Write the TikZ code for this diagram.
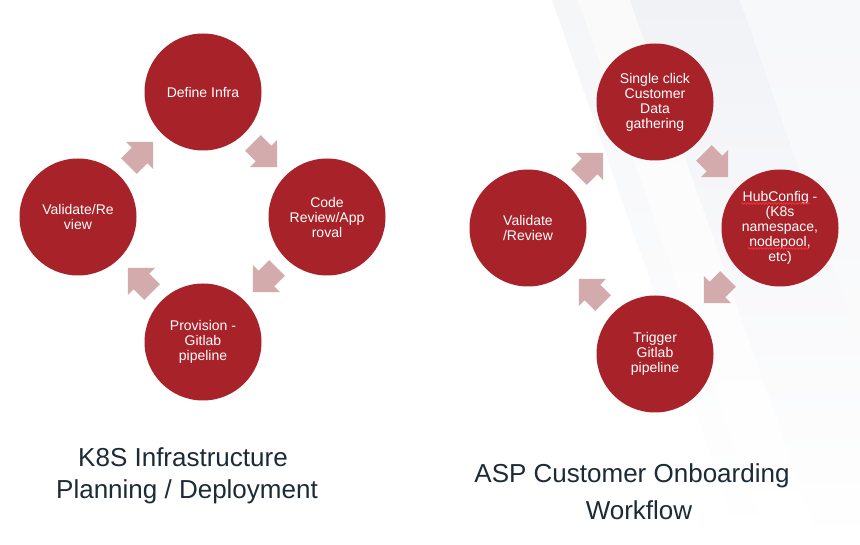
\documentclass[tikz,border=0pt]{standalone}
\usepackage{fontspec}
\setmainfont{Liberation Sans}
\usetikzlibrary{decorations.pathmorphing}
\definecolor{circred}{HTML}{A82229}
\definecolor{arrowpink}{HTML}{D3ABAC}
\definecolor{titlec}{HTML}{1C2B35}
\definecolor{bandA}{HTML}{F5F6F8}
\definecolor{bandB}{HTML}{FAFAFB}
\definecolor{bandC}{HTML}{F1F2F6}
\definecolor{bandD}{HTML}{F7F8FA}
\definecolor{squig}{HTML}{F0303A}
% block arrow: name, centre, rotation angle
\newcommand\cyclearrowat[3]{%
  \coordinate (#1) at #2;
  \begin{scope}[shift={(#1)}, rotate=#3]
    \fill[arrowpink] (-17,-11) -- (-2,-11) -- (-2,-19) -- (17,0)
      -- (-2,19) -- (-2,11) -- (-17,11) -- cycle;
  \end{scope}}
\begin{document}
\begin{tikzpicture}[x=1pt,y=-1pt,
  stage/.style={circle, fill=circred, minimum size=117pt, inner sep=0pt,
    text=white, align=center, font=\fontsize{14}{15}\selectfont},
  title/.style={text=titlec, font=\fontsize{26}{30}\selectfont,
    anchor=base, inner sep=0pt},
  spell/.style={squig, line width=0.8pt, decorate,
    decoration={snake, amplitude=0.9pt, segment length=3pt}}]
\useasboundingbox (0,0) rectangle (860,545);
\fill[white] (0,0) rectangle (860,545);
% faint background bands
\begin{scope}
\clip (0,0) rectangle (860,545);
\shade[top color=bandA, bottom color=white] (552,0) -- (578,0) -- (768.75,545) -- (742.75,545) -- cycle;
\shade[top color=bandB, bottom color=white] (578,0) -- (630,0) -- (820.75,545) -- (768.75,545) -- cycle;
\shade[top color=bandC, bottom color=white] (630,0) -- (740,0) -- (930.75,545) -- (820.75,545) -- cycle;
\shade[top color=bandD, bottom color=bandB] (740,0) -- (860,0) -- (860,342.9) -- cycle;
\end{scope}

% left cycle
\node[stage] (define) at (203,92) {Define Infra};
\node[stage] (review) at (327,217) {Code\\Review/App\\roval};
\node[stage] (provision) at (203,342) {Provision -\\Gitlab\\pipeline};
\node[stage] (validateL) at (78,217) {Validate/Re\\view};
\cyclearrowat{l1}{(265,155)}{-45}
\cyclearrowat{l2}{(265,280)}{-135}
\cyclearrowat{l3}{(140,280)}{135}
\cyclearrowat{l4}{(141,154)}{45}

% right cycle
\node[stage] (gather) at (655,102) {Single click\\Customer\\Data\\gathering};
\node[stage] (hub) at (780,228) {HubConfig -\\(K8s\\namespace,\\nodepool,\\etc)};
\node[stage] (trigger) at (655,354) {Trigger\\Gitlab\\pipeline};
\node[stage] (validateR) at (528,228) {Validate\\/Review};
\cyclearrowat{r1}{(716,165)}{-45}
\cyclearrowat{r2}{(716,291)}{-135}
\cyclearrowat{r3}{(591,291)}{135}
\cyclearrowat{r4}{(591,165)}{45}

% spell-check underlines
\draw[spell] (741,203.5) -- (810,203.5);
\draw[spell] (748,248.5) -- (809,248.5);

% titles
\node[title] (t1a) at (183,466) {K8S Infrastructure};
\node[title] (t1b) at (187,498) {Planning / Deployment};
\node[title] (t2a) at (632,482) {ASP Customer Onboarding};
\node[title] (t2b) at (639,519) {Workflow};
\end{tikzpicture}
\end{document}
